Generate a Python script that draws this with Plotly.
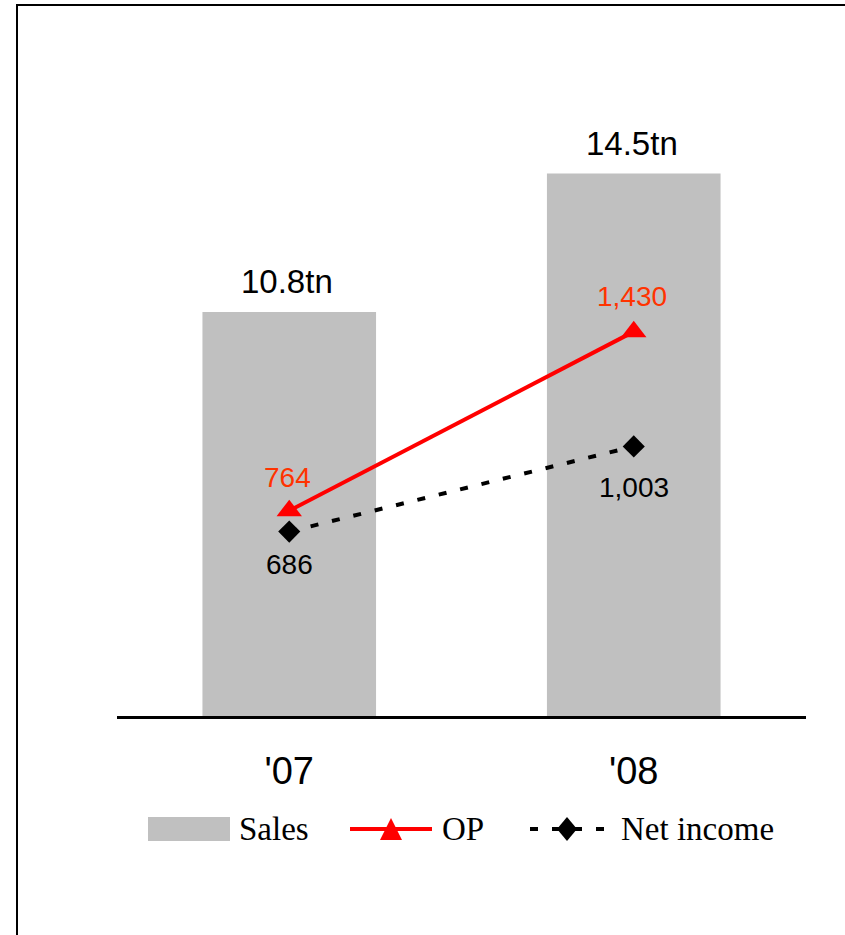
import plotly.graph_objects as go

years = ["'07", "'08"]
sales_tn = [10.8, 14.5]
op = [764, 1430]
net_income = [686, 1003]

W, H = 845, 935
L, T, PW, PH = 117, 40, 689, 676


def px(fx):
    return (fx - L) / PW


def py(fy):
    return (T + PH - fy) / PH


fig = go.Figure()

fig.add_trace(go.Bar(
    x=years, y=sales_tn, name="Sales",
    marker=dict(color="#c0c0c0", line=dict(width=0)),
    width=0.504, showlegend=False,
))

fig.add_trace(go.Scatter(
    x=years, y=op, name="OP", yaxis="y2",
    mode="lines+markers",
    line=dict(color="#ff0000", width=4),
    marker=dict(symbol="triangle-up", size=22, color="#ff0000"),
    showlegend=False,
))

fig.add_trace(go.Scatter(
    x=years, y=net_income, name="Net income", yaxis="y2",
    mode="lines+markers",
    line=dict(color="#000000", width=4, dash="8px,14px"),
    marker=dict(symbol="diamond", size=17, color="#000000"),
    showlegend=False,
))

label_font = "Liberation Sans, Arial, sans-serif"
annotations = []
for x, v in zip(years, sales_tn):
    annotations.append(dict(
        x=x, y=v, xref="x", yref="y", text=f"{v:.1f}tn", showarrow=False,
        yanchor="bottom", yshift=10, xshift=-2,
        font=dict(family=label_font, size=33, color="#000000"),
    ))
for x, v, s in zip(years, op, [33, 35]):
    annotations.append(dict(
        x=x, y=v, xref="x", yref="y2", text=f"{v:,}", showarrow=False,
        yanchor="middle", yshift=s, xshift=-2,
        font=dict(family=label_font, size=28, color="#ff3300"),
    ))
for x, v, s in zip(years, net_income, [-33, -41]):
    annotations.append(dict(
        x=x, y=v, xref="x", yref="y2", text=f"{v:,}", showarrow=False,
        yanchor="middle", yshift=s,
        font=dict(family=label_font, size=28, color="#000000"),
    ))

# manual legend (page pixel positions)
leg_y = 829
legend_font = dict(family="Liberation Serif, Times New Roman, serif", size=33, color="#000000")
for name, fx in [("Sales", 237), ("OP", 440), ("Net income", 619)]:
    annotations.append(dict(
        x=px(fx), y=py(leg_y), xref="paper", yref="paper", text=name,
        showarrow=False, xanchor="left", yanchor="middle", font=legend_font,
    ))

shapes = [
    # outer frame
    dict(type="rect", xref="paper", yref="paper",
         x0=px(17), x1=px(W + 40), y0=py(5), y1=py(H + 40),
         line=dict(color="#000000", width=2), fillcolor="rgba(0,0,0,0)", layer="above"),
    # legend: Sales swatch
    dict(type="rect", xref="paper", yref="paper",
         x0=px(148), x1=px(230), y0=py(817), y1=py(841),
         line=dict(width=0), fillcolor="#c0c0c0"),
    # legend: OP line
    dict(type="line", xref="paper", yref="paper",
         x0=px(350), x1=px(432), y0=py(leg_y), y1=py(leg_y),
         line=dict(color="#ff0000", width=4)),
    dict(type="path", xref="paper", yref="paper",
         xsizemode="pixel", ysizemode="pixel", xanchor=px(391), yanchor=py(leg_y),
         path="M-11,-11 L11,-11 L0,11 Z",
         line=dict(width=0), fillcolor="#ff0000"),
    # legend: Net income dashed line
    dict(type="line", xref="paper", yref="paper",
         x0=px(530), x1=px(605), y0=py(leg_y), y1=py(leg_y),
         line=dict(color="#000000", width=4, dash="8px,14px")),
    dict(type="path", xref="paper", yref="paper",
         xsizemode="pixel", ysizemode="pixel", xanchor=px(567), yanchor=py(leg_y),
         path="M-10,0 L0,12 L10,0 L0,-12 Z",
         line=dict(width=0), fillcolor="#000000"),
]

fig.update_layout(
    width=W, height=H,
    margin=dict(l=L, r=W - L - PW, t=T, b=H - T - PH),
    paper_bgcolor="white", plot_bgcolor="white",
    showlegend=False,
    xaxis=dict(
        range=[-0.5, 1.5], showline=True, linecolor="#000000", linewidth=2.5,
        showgrid=False, zeroline=False, ticks="", ticklabelstandoff=20,
        tickfont=dict(family="Liberation Sans Narrow, Arial Narrow, Liberation Sans, sans-serif",
                      size=38, color="#000000"),
    ),
    yaxis=dict(range=[0, 18.07], visible=False, showgrid=False),
    yaxis2=dict(range=[0, 2515], overlaying="y", side="right", visible=False, showgrid=False),
    annotations=annotations,
    shapes=shapes,
)

fig.write_html(
    "out.html",
    config={"displayModeBar": False},
    post_script="document.body.style.margin='0';document.body.style.overflow='hidden';",
)
